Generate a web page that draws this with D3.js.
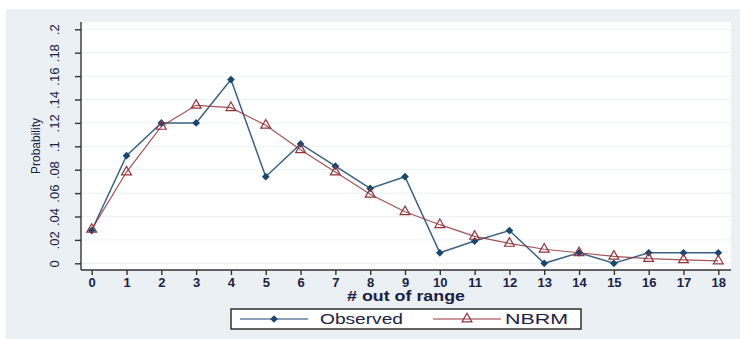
<!DOCTYPE html>
<html lang="en">
<head>
<meta charset="utf-8">
<title>Observed vs NBRM</title>
<script src="https://d3js.org/d3.v7.min.js"></script>
<style>
  body { margin: 0; background: #fff; }
  svg text { font-family: "Liberation Sans", Arial, sans-serif; fill: #1c2244; }
</style>
</head>
<body>
<div id="chart"></div>
<script>
// values
var counts = [0,1,2,3,4,5,6,7,8,9,10,11,12,13,14,15,16,17,18];
var observed = [0.028,0.092,0.12,0.12,0.157,0.074,0.102,0.083,0.064,0.074,0.009,0.019,0.028,0,0.009,0,0.009,0.009,0.009];
var nbrm = [0.029,0.078,0.117,0.135,0.133,0.118,0.097,0.078,0.059,0.044,0.033,0.023,0.017,0.012,0.009,0.006,0.004,0.003,0.002];
var yTicks = [0,0.02,0.04,0.06,0.08,0.1,0.12,0.14,0.16,0.18,0.2];
var yTickLabels = ["0",".02",".04",".06",".08",".1",".12",".14",".16",".18",".2"];

var W = 740, H = 339;
var blue = "#1a476f", red = "#90353b";

var svg = d3.select("#chart").append("svg")
    .attr("width", W).attr("height", H);

// outer graph region
svg.append("rect").attr("x", 6).attr("y", 9).attr("width", W - 6).attr("height", H - 9)
    .attr("fill", "#eaf0f3");

// plot region
var plot = {left: 81, right: 731, top: 22, bottom: 270};
svg.append("rect")
    .attr("x", plot.left).attr("y", plot.top)
    .attr("width", plot.right - plot.left).attr("height", plot.bottom - plot.top)
    .attr("fill", "#fff");

var x = d3.scaleLinear().domain([0, 18]).range([91.7, 718.3]);
var y = d3.scaleLinear().domain([0, 0.2]).range([263.3, 29.3]);

// grid lines
svg.append("g").selectAll("line").data(yTicks).enter().append("line")
    .attr("x1", plot.left).attr("x2", plot.right)
    .attr("y1", function(d) { return y(d); }).attr("y2", function(d) { return y(d); })
    .attr("stroke", "#eaf0f3").attr("stroke-width", 1);

// y axis
var yAxis = svg.append("g")
    .attr("transform", "translate(" + plot.left + ",0)")
    .call(d3.axisLeft(y).tickValues(yTicks).tickSize(6)
        .tickFormat(function(d, i) { return yTickLabels[i]; }));
yAxis.select(".domain").attr("d", "M0," + plot.top + "V" + plot.bottom);
yAxis.selectAll("line, .domain").attr("stroke", "#333").attr("stroke-width", 1.4);
yAxis.selectAll(".tick text")
    .attr("transform", "rotate(-90)")
    .attr("x", 0).attr("y", -27).attr("dy", "0.35em")
    .style("text-anchor", "middle").style("font-size", "13px");

// x axis
var xAxis = svg.append("g")
    .attr("transform", "translate(0," + plot.bottom + ")")
    .call(d3.axisBottom(x).tickValues(counts).tickSize(5).tickPadding(3).tickFormat(d3.format("d")));
xAxis.select(".domain").attr("d", "M" + plot.left + ",0H" + plot.right);
xAxis.selectAll("line, .domain").attr("stroke", "#333").attr("stroke-width", 1.4);
xAxis.selectAll("text").style("font-size", "13px").style("font-weight", "bold");

// axis titles
svg.append("text")
    .attr("transform", "translate(36," + ((plot.top + plot.bottom) / 2) + ") rotate(-90)")
    .attr("text-anchor", "middle").attr("dy", "0.35em")
    .style("font-size", "12px").text("Probability");
svg.append("text")
    .attr("x", 347).attr("y", 301)
    .attr("textLength", 118).attr("lengthAdjust", "spacingAndGlyphs")
    .style("font-size", "15px").style("font-weight", "bold").text("# out of range");

// lines
var line = d3.line()
    .x(function(d, i) { return x(counts[i]); })
    .y(function(d) { return y(d); });

svg.append("path").datum(observed)
    .attr("d", line).attr("fill", "none")
    .attr("stroke", blue).attr("stroke-width", 1.5).attr("stroke-opacity", 0.85);
svg.append("path").datum(nbrm)
    .attr("d", line).attr("fill", "none")
    .attr("stroke", red).attr("stroke-width", 1.2).attr("stroke-opacity", 0.85);

var diamond = d3.symbol().type(d3.symbolSquare).size(30);
var triangle = d3.symbol().type(d3.symbolTriangle).size(42);

svg.append("g").selectAll("path").data(observed).enter().append("path")
    .attr("d", diamond)
    .attr("transform", function(d, i) { return "translate(" + x(counts[i]) + "," + y(d) + ") rotate(45)"; })
    .attr("fill", blue);
svg.append("g").selectAll("path").data(nbrm).enter().append("path")
    .attr("d", triangle)
    .attr("transform", function(d, i) { return "translate(" + x(counts[i]) + "," + y(d) + ")"; })
    .attr("fill", "none").attr("stroke", red).attr("stroke-width", 1.2);

// legend
var leg = svg.append("g");
leg.append("rect").attr("x", 231).attr("y", 309).attr("width", 350).attr("height", 20)
    .attr("fill", "#fff").attr("stroke", "#222").attr("stroke-width", 1.4);
var legendItems = [
  {name: "Observed", color: blue, sym: diamond, fill: blue, rot: 45, x0: 240, tx: 320, tw: 83},
  {name: "NBRM", color: red, sym: triangle, fill: "none", rot: 0, x0: 433, tx: 505, tw: 63}
];
legendItems.forEach(function(it) {
  leg.append("line").attr("x1", it.x0).attr("x2", it.x0 + 68).attr("y1", 319).attr("y2", 319)
      .attr("stroke", it.color).attr("stroke-width", 1.2);
  leg.append("path").attr("d", it.sym)
      .attr("transform", "translate(" + (it.x0 + 34) + ",319) rotate(" + it.rot + ")")
      .attr("fill", it.fill).attr("stroke", it.fill === "none" ? it.color : null).attr("stroke-width", 1.2);
  leg.append("text").attr("x", it.tx).attr("y", 319).attr("dy", "0.36em")
      .attr("textLength", it.tw).attr("lengthAdjust", "spacingAndGlyphs")
      .style("font-size", "15px").text(it.name);
});
</script>
</body>
</html>
